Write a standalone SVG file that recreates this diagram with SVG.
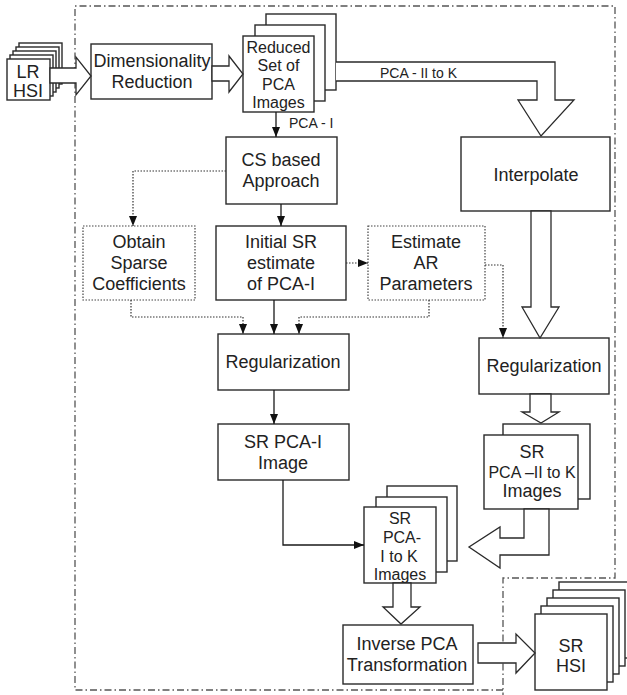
<svg xmlns="http://www.w3.org/2000/svg" width="627" height="695" viewBox="0 0 627 695">
<style>
.box{fill:#fff;stroke:#2a2a2a;stroke-width:1.4}
.dbox{fill:#fff;stroke:#444;stroke-width:1.2;stroke-dasharray:1.5 1.5}
.wa{fill:#fff;stroke:#2a2a2a;stroke-width:1.3;stroke-linejoin:miter}
.ln{fill:none;stroke:#1a1a1a;stroke-width:1.3}
.dl{fill:none;stroke:#333;stroke-width:1.2;stroke-dasharray:1.5 1.5}
.frame{fill:none;stroke:#555;stroke-width:1.3;stroke-dasharray:7 3 1.5 3}
text{font-family:"Liberation Sans",Arial,sans-serif;fill:#222;text-anchor:middle;font-size:18px}
.s16{font-size:16px}
.s14{font-size:14px;text-anchor:start}
</style>
<defs>
<marker id="ah" viewBox="0 0 10 8" refX="10" refY="4" markerWidth="10" markerHeight="8" markerUnits="userSpaceOnUse" orient="auto">
<path d="M0,0 L10,4 L0,8 z" fill="#111"/>
</marker>
</defs>

<g id="frames">
<path class="frame" d="M503,690 H75 V6 H615 V578 H503 V695"/>
</g>

<g id="lr-hsi">
<rect class="box" x="19" y="43" width="43" height="41"/>
<rect class="box" x="16" y="47" width="43" height="41"/>
<rect class="box" x="13" y="51" width="43" height="41"/>
<rect class="box" x="10" y="55" width="43" height="41"/>
<rect class="box" x="7" y="59" width="43" height="41"/>
<text x="28" y="78">LR</text>
<text x="28" y="97">HSI</text>
</g>

<g id="dim-red">
<rect class="box" x="91" y="44" width="121" height="55"/>
<text x="152" y="67">Dimensionality</text>
<text x="152" y="88">Reduction</text>
</g>

<g id="reduced-set">
<rect class="box" x="266" y="14" width="70" height="76"/>
<rect class="box" x="255" y="25" width="70" height="76"/>
<rect class="box" x="243" y="36" width="71" height="76"/>
<text class="s16" x="278.5" y="53">Reduced</text>
<text class="s16" x="278.5" y="71">Set of</text>
<text class="s16" x="278.5" y="90">PCA</text>
<text class="s16" x="278.5" y="108">Images</text>
</g>

<g id="cs">
<rect class="box" x="226" y="137" width="111" height="67"/>
<text x="281" y="166">CS based</text>
<text x="281" y="187">Approach</text>
</g>

<g id="obtain">
<rect class="dbox" x="83" y="226" width="112" height="74"/>
<text x="139" y="248">Obtain</text>
<text x="139" y="269">Sparse</text>
<text x="139" y="290">Coefficients</text>
</g>

<g id="initial">
<rect class="box" x="216" y="226" width="130" height="74"/>
<text x="281" y="248">Initial SR</text>
<text x="281" y="269">estimate</text>
<text x="281" y="290">of PCA-I</text>
</g>

<g id="estimate">
<rect class="dbox" x="368" y="226" width="117" height="74"/>
<text x="426" y="248">Estimate</text>
<text x="426" y="269">AR</text>
<text x="426" y="290">Parameters</text>
</g>

<g id="interpolate">
<rect class="box" x="461" y="137" width="149" height="74"/>
<text x="536" y="181">Interpolate</text>
</g>

<g id="reg-left">
<rect class="box" x="218" y="334" width="131" height="56"/>
<text x="283" y="368">Regularization</text>
</g>

<g id="reg-right">
<rect class="box" x="479" y="338" width="130" height="56"/>
<text x="544" y="372">Regularization</text>
</g>

<g id="sr-pca-i">
<rect class="box" x="218" y="424" width="131" height="56"/>
<text x="283" y="448">SR PCA-I</text>
<text x="283" y="469">Image</text>
</g>

<g id="sr-pca-ii-k">
<rect class="box" x="503" y="424" width="87" height="75"/>
<rect class="box" x="484" y="435" width="94" height="74"/>
<text x="532" y="458">SR</text>
<text class="s16" x="532" y="478">PCA –II to K</text>
<text x="532" y="497">Images</text>
</g>

<g id="sr-pca-i-k">
<rect class="box" x="387" y="486" width="70" height="75"/>
<rect class="box" x="376" y="497" width="71" height="75"/>
<rect class="box" x="364" y="507" width="72" height="76"/>
<text class="s16" x="400" y="524">SR</text>
<text class="s16" x="402" y="543">PCA-</text>
<text class="s16" x="399" y="562">I to K</text>
<text class="s16" x="400" y="580">Images</text>
</g>

<g id="inverse-pca">
<rect class="box" x="343" y="625" width="130" height="59"/>
<text x="407" y="650">Inverse PCA</text>
<text x="407" y="671">Transformation</text>
</g>

<g id="sr-hsi">
<rect class="box" x="559" y="582" width="72" height="76"/>
<rect class="box" x="553" y="590" width="72" height="76"/>
<rect class="box" x="547" y="598" width="72" height="76"/>
<rect class="box" x="541" y="606" width="72" height="76"/>
<rect class="box" x="535" y="614" width="72" height="76"/>
<text x="571" y="652">SR</text>
<text x="571" y="672">HSI</text>
</g>

<g id="connectors">
<polygon class="wa" points="50,68 76,68 76,57 91,76 76,95 76,83 50,83"/>
<polygon class="wa" points="212,66 229,66 229,56 243,74 229,92 229,81 212,81"/>
<path class="wa" d="M336,62 H555 V100 H574 L541,136 L518,100 H537 V81 H336"/>
<polygon class="wa" points="531,211 551,211 551,307 559,307 540,338 522,307 531,307"/>
<polygon class="wa" points="530,394 551,394 551,412 559,412 541,423 522,412 530,412"/>
<polygon class="wa" points="524,509 524,538 500,538 500,527 469,547 500,568 500,555 549,555 549,509"/>
<polygon class="wa" points="393,583 411,583 411,607 420,607 401,624 383,607 393,607"/>
<polygon class="wa" points="478,643 516,643 516,634 535,653 516,673 516,663 478,663"/>

<path class="ln" d="M276,112 V137" marker-end="url(#ah)"/>
<path class="ln" d="M281,204 V226" marker-end="url(#ah)"/>
<path class="ln" d="M274,300 V334" marker-end="url(#ah)"/>
<path class="ln" d="M274,390 V424" marker-end="url(#ah)"/>
<path class="ln" d="M283,480 V545 H364" marker-end="url(#ah)"/>

<path class="dl" d="M226,171 H133 V226" marker-end="url(#ah)"/>
<path class="dl" d="M346,263 H368" marker-end="url(#ah)"/>
<path class="dl" d="M131,300 V317 H243 V334" marker-end="url(#ah)"/>
<path class="dl" d="M429,300 V317 H299 V334" marker-end="url(#ah)"/>
<path class="dl" d="M485,265 H503 V338" marker-end="url(#ah)"/>

<text class="s14" x="380" y="78">PCA - II to K</text>
<text class="s14" x="289" y="128">PCA - I</text>
</g>
</svg>
